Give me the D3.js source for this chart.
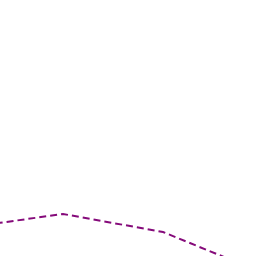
<!DOCTYPE html>
<html><head><meta charset="utf-8">
<script src="https://cdn.jsdelivr.net/npm/d3@7"></script>
<style>html,body{margin:0;padding:0;background:#fff;}svg{display:block;}</style>
</head><body>
<svg id="c" width="256" height="256"></svg>
<script>
const categories = [0, 1, 2, 3];
const values = [28, 42, 24, -17];

const svg = d3.select("#c");
const x = d3.scaleLinear().domain([0, 3]).range([-37, 263]);
const y = d3.scaleLinear().domain([0, 256]).range([256, 0]);

const line = d3.line().x((d, i) => x(categories[i])).y(d => y(d));
svg.append("path")
  .datum(values)
  .attr("d", line)
  .attr("fill", "none")
  .attr("stroke", "#850a7a")
  .attr("stroke-width", 2)
  .attr("stroke-dasharray", "7,4");
</script>
</body></html>
